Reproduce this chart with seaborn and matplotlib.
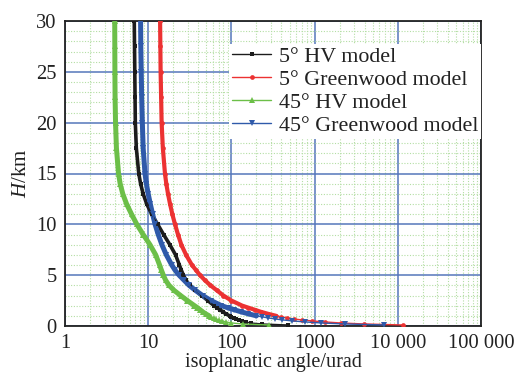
import numpy as np
import pandas as pd
import seaborn as sns
import matplotlib
matplotlib.use("Agg")
import matplotlib.pyplot as plt
from matplotlib.lines import Line2D
from matplotlib.ticker import FixedLocator, LogLocator, NullFormatter, MultipleLocator

# ---------------- data ----------------
heights = [0.1, 0.2, 0.3, 0.4, 0.5, 0.6, 0.7, 0.8, 0.9, 1.0, 1.2, 1.4, 1.6, 1.8,
           2.0, 2.5, 3.0, 3.5, 4.0, 4.5, 5.0, 5.5, 6.0, 7.0, 8.0, 9.0, 10, 11,
           12, 13, 14, 15, 17.5, 20, 22.5, 25, 27.5, 30]

hv_5 = [480, 235, 170, 148, 133, 122, 113, 106, 100, 95, 86, 79, 73, 67,
        62, 52, 44, 37, 31.5, 28.5, 26.5, 25, 23.7, 21.3, 18.2, 15.3, 13.0, 11.0,
        9.6, 8.7, 8.1, 7.7, 7.2, 7.0, 6.95, 6.9, 6.85, 6.8]

gw_5 = [11600, 3900, 2050, 1330, 930, 700, 560, 470, 400, 345, 275, 225, 190, 160,
        135, 100, 80, 67, 56, 48, 42, 37.5, 33.5, 28.5, 25, 22.8, 21, 19.5,
        18.3, 17.3, 16.5, 15.9, 15.0, 14.5, 14.3, 14.1, 14.0, 13.9]

hv_45 = [280, 137, 100, 86, 77, 70, 65, 61, 57, 54, 49, 45, 42, 39,
         36, 29.5, 24.5, 20.5, 17.8, 16.2, 15.2, 14.4, 13.7, 12.3, 10.5, 8.7, 7.3, 6.3,
         5.5, 4.95, 4.6, 4.4, 4.15, 4.05, 4.0, 3.98, 3.97, 3.96]

gw_45 = [6900, 2300, 1200, 770, 540, 410, 330, 275, 235, 200, 160, 130, 108, 90,
         76, 57, 45, 37, 31, 27, 23.5, 21, 19.2, 16.5, 14.6, 13.2, 12.1, 11.3,
         10.6, 10.0, 9.5, 9.15, 8.7, 8.5, 8.35, 8.25, 8.15, 8.1]

series_names = ["5° HV model", "5° Greenwood model", "45° HV model", "45° Greenwood model"]
series_values = [hv_5, gw_5, hv_45, gw_45]

x_ticks = [1, 10, 100, 1000, 10000, 100000]
x_ticklabels = ["1", "10", "100", "1000", "10 000", "100 000"]
y_ticks = [0, 5, 10, 15, 20, 25, 30]

# ---------------- styling ----------------
colors = ["#1c1c1c", "#ec3232", "#6cbf48", "#2f5aaa"]
markers = ["s", "o", "^", "v"]
msizes = [3.0, 3.4, 4.2, 4.2]
band_lw = [2.6, 3.0, 3.6, 3.6]

sns.set_theme(style="white")
plt.rcParams["font.family"] = ["Liberation Serif", "DejaVu Serif"]
plt.rcParams["mathtext.fontset"] = "custom"
plt.rcParams["mathtext.rm"] = "Liberation Serif"
plt.rcParams["mathtext.it"] = "Liberation Serif:italic"

frames = []
for name, vals in zip(series_names, series_values):
    frames.append(pd.DataFrame({"H": heights, "angle": vals, "model": name}))
df = pd.concat(frames, ignore_index=True)

fig = plt.figure(figsize=(5.17, 3.73), dpi=100)
ax = fig.add_axes([65 / 517, 1 - 326 / 373, (481 - 65) / 517, (326 - 21) / 373])

for i, name in enumerate(series_names):
    sub = df[df["model"] == name]
    upper = sub[sub["H"] >= 1.0]
    # dense band (overlapping markers in the original)
    sns.lineplot(data=upper, x="angle", y="H", color=colors[i], lw=band_lw[i],
                 sort=False, estimator=None, ax=ax, legend=False, zorder=3,
                 solid_capstyle="round")
    # thin line with markers everywhere
    sns.lineplot(data=sub, x="angle", y="H", color=colors[i], lw=1.0,
                 marker=markers[i], markersize=msizes[i], markeredgewidth=0,
                 sort=False, estimator=None, ax=ax, legend=False, zorder=4)

ax.set_xscale("log")
ax.set_xlim(1, 100000)
ax.set_ylim(0, 30)

ax.xaxis.set_major_locator(FixedLocator(x_ticks))
ax.set_xticklabels(x_ticklabels)
ax.xaxis.set_minor_locator(LogLocator(base=10, subs=np.arange(2, 10), numticks=20))
ax.xaxis.set_minor_formatter(NullFormatter())
ax.set_yticks(y_ticks)
ax.yaxis.set_minor_locator(MultipleLocator(1))

ax.grid(which="minor", color="#b4dea4", linestyle=(0, (1, 1.5)), linewidth=0.8, zorder=0)
ax.grid(which="major", color="#5577bb", linestyle="-", linewidth=1.1, zorder=1)
ax.set_axisbelow(True)

ax.tick_params(axis="both", which="major", direction="in", length=5, width=1.0,
               color="#222222", labelsize=14.8, pad=6, labelcolor="#222222")
ax.tick_params(axis="both", which="minor", direction="in", length=3, width=0.9,
               color="#222222")

for sp in ax.spines.values():
    sp.set_color("#222222")
    sp.set_linewidth(1.3)

ax.set_xlabel("isoplanatic angle/urad", fontsize=14.5, color="#222222", labelpad=0)
ax.set_ylabel(r"$H$/km", fontsize=15, color="#222222", labelpad=4)

handles = [Line2D([0], [0], color=colors[i], lw=1.0, marker=markers[i],
                  markersize=msizes[i], markeredgewidth=0) for i in range(4)]
leg = ax.legend(handles, series_names, loc="upper right",
                bbox_to_anchor=(1.0, (326 - 44) / 305), fontsize=15.8,
                frameon=True, fancybox=False, framealpha=1, facecolor="white",
                edgecolor="none", borderpad=0.12, borderaxespad=0,
                handlelength=1.8, handletextpad=0.35, labelspacing=0.12)
for t in leg.get_texts():
    t.set_color("#222222")
leg.set_zorder(5)

fig.savefig("out.png", dpi=100)
